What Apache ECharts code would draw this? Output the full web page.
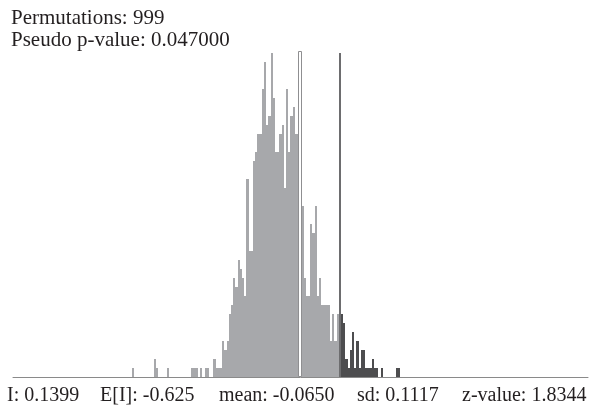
<!DOCTYPE html>
<html><head><meta charset="utf-8">
<script src="https://cdn.jsdelivr.net/npm/echarts@6/dist/echarts.min.js"></script>
<style>html,body{margin:0;padding:0;background:#fff}#c{width:595px;height:410px}</style>
</head><body><div id="c"></div>
<script>
// ---- data ----
const permutations = 999;
const pseudoP = '0.047000';
const observedI = 0.1399;
const expectedI = '-0.625';
const meanI = -0.0650;
const sdI = 0.1117;
const zValue = 1.8344;
const binStart = -0.9256;
const binWidth = 0.01127;
const counts = [1,0,0,0,0,0,0,0,0,0, 2,1,0,0,0,0,1,0,0,0, 0,0,0,0,0,0,0,1,1,1,
  0,1,0,1,1,0,0,2,1,1, 1,4,3,4,7,8,11,10,13,12, 11,9,22,14,14,24,25,27,27,32,
  35,28,29,36,31,25,25,27,28,21, 32,25,29,30,27,27,27,19,11,9, 9,17,16,19,9,11,8,8,8,8,
  4,7,4,7,7,7,6,2,1,3, 5,1,4,1,3,3,1,1,1,2, 1,1,0,1,0,0,0,0,0,0, 1,1];
const xMin = -1.5352, xMax = 1.4103;
const yMax = 36;

const LIGHT = '#a7a8ab', DARK = '#4d4d4f', OBS = '#6d6d6f', AXIS = '#8a8a8a', TXT = '#231f20';
const FONT = '"Liberation Serif", "Times New Roman", serif';

const binData = [];
counts.forEach((c, i) => { if (c > 0) binData.push([binStart + i * binWidth, binStart + (i + 1) * binWidth, c]); });

const chart = echarts.init(document.getElementById('c'), null, {renderer: 'canvas'});
chart.setOption({
  animation: false,
  grid: {left: 13, right: 7, top: 53, bottom: 33},
  xAxis: {type: 'value', min: xMin, max: xMax, splitLine: {show: false},
    axisLine: {show: true, onZero: true, lineStyle: {color: AXIS, width: 1}},
    axisTick: {show: false}, axisLabel: {show: false}},
  yAxis: {type: 'value', min: 0, max: yMax, show: false, splitLine: {show: false}},
  graphic: [
    {type: 'text', left: 11, top: 8, style: {text: 'Permutations: ' + permutations, fontSize: 21, fontFamily: FONT, fill: TXT}},
    {type: 'text', left: 11, top: 30, style: {text: 'Pseudo p-value: ' + pseudoP, fontSize: 21, fontFamily: FONT, fill: TXT}},
    {type: 'text', left: 7, top: 386, style: {text: 'I: ' + observedI.toFixed(4), fontSize: 20, fontFamily: FONT, fill: TXT}},
    {type: 'text', left: 100, top: 386, style: {text: 'E[I]: ' + expectedI, fontSize: 20, fontFamily: FONT, fill: TXT}},
    {type: 'text', left: 219, top: 386, style: {text: 'mean: ' + meanI.toFixed(4), fontSize: 20, fontFamily: FONT, fill: TXT}},
    {type: 'text', left: 357, top: 386, style: {text: 'sd: ' + sdI.toFixed(4), fontSize: 20, fontFamily: FONT, fill: TXT}},
    {type: 'text', left: 462, top: 386, style: {text: 'z-value: ' + zValue.toFixed(4), fontSize: 20, fontFamily: FONT, fill: TXT}}
  ],
  series: [
    {
      type: 'custom', data: binData, encode: {x: [0, 1], y: 2},
      renderItem: function (params, api) {
        const x0 = api.value(0), x1 = api.value(1), c = api.value(2);
        const p0 = api.coord([x0, 0]), p1 = api.coord([x1, c]);
        const xa = Math.round(p0[0]), xb = Math.round(p1[0]);
        const yt = Math.round(p1[1]), yb = Math.round(p0[1]);
        return {type: 'rect', shape: {x: xa, y: yt, width: xb - xa, height: yb - yt},
          style: {fill: x0 >= observedI ? DARK : LIGHT}};
      }
    },
    {
      type: 'custom', data: [[meanI, 0], [observedI, 1]], encode: {x: 0},
      renderItem: function (params, api) {
        const v = api.value(0), kind = api.value(1);
        const b = api.coord([v, 0]), t = api.coord([v, yMax]);
        const xc = Math.round(b[0]);
        if (kind === 0) {
          return {type: 'rect', shape: {x: xc - 1.5, y: Math.round(t[1]) - 1.5, width: 3, height: Math.round(b[1]) - Math.round(t[1]) + 1},
            style: {fill: '#ffffff', stroke: '#8f8f91', lineWidth: 1}};
        }
        return {type: 'rect', shape: {x: xc - 1, y: Math.round(t[1]), width: 2, height: Math.round(b[1]) - Math.round(t[1])},
          style: {fill: OBS}};
      }
    }
  ]
});
</script>
</body></html>
